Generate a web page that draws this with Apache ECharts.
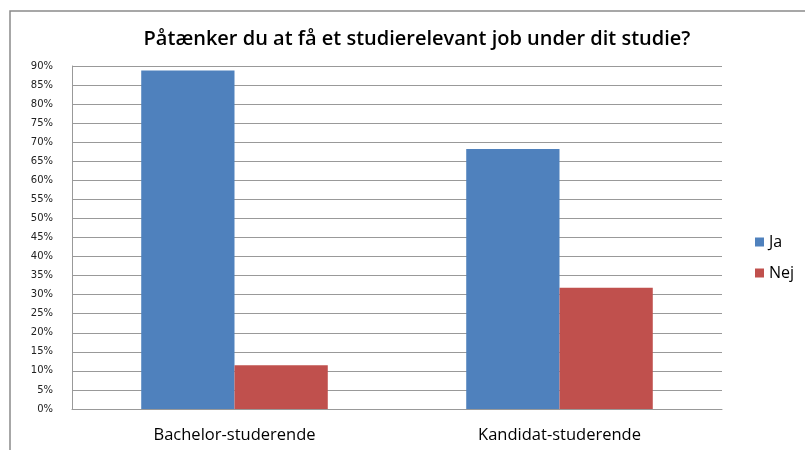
<!DOCTYPE html>
<html>
<head>
<meta charset="utf-8">
<script src="https://cdn.jsdelivr.net/npm/echarts@6/dist/echarts.min.js"></script>
<style>
  html, body { margin: 0; padding: 0; background: #fff; }
  #main { width: 805px; height: 450px; }
</style>
</head>
<body>
<div id="main"></div>
<script>
// data
var categories = ['Bachelor-studerende', 'Kandidat-studerende'];
var jaValues = [88.8, 68.2];
var nejValues = [11.5, 31.8];
var seriesNames = ['Ja', 'Nej'];

var chart = echarts.init(document.getElementById('main'));

chart.setOption({
  animation: false,
  backgroundColor: '#fff',
  title: {
    text: 'Påtænker du at få et studierelevant job under dit studie?',
    left: 412,
    textAlign: 'center',
    top: 24,
    textStyle: {
      fontFamily: 'Open Sans',
      fontWeight: 600,
      fontSize: 20,
      color: '#000'
    }
  },
  // outer frame of the chart
  graphic: [{
    type: 'rect',
    shape: { x: 10, y: 11, width: 820, height: 460 },
    style: { fill: 'none', stroke: '#8a8a8a', lineWidth: 1.5 },
    silent: true
  }],
  legend: {
    orient: 'vertical',
    left: 750,
    top: 229,
    itemWidth: 9,
    itemHeight: 9,
    itemGap: 15,
    icon: 'rect',
    data: seriesNames,
    textStyle: {
      fontFamily: 'Open Sans',
      fontSize: 16,
      color: '#000'
    }
  },
  grid: {
    left: 72,
    right: 83,
    top: 66,
    bottom: 41,
    containLabel: false
  },
  xAxis: {
    type: 'category',
    data: categories,
    axisTick: { show: false },
    axisLine: { show: true, lineStyle: { color: '#999' } },
    axisLabel: {
      fontFamily: 'Open Sans',
      fontSize: 16.5,
      color: '#000',
      margin: 18
    }
  },
  yAxis: {
    type: 'value',
    min: 0,
    max: 90,
    interval: 5,
    axisLine: { show: true, lineStyle: { color: '#999' } },
    axisTick: { show: false },
    splitLine: { show: true, lineStyle: { color: '#999' } },
    axisLabel: {
      formatter: '{value}%',
      fontFamily: 'DejaVu Sans',
      fontSize: 10,
      color: '#222',
      margin: 19
    }
  },
  series: [
    {
      name: seriesNames[0],
      type: 'bar',
      data: jaValues,
      barGap: '0%',
      barCategoryGap: '42.6%',
      itemStyle: { color: '#4F81BD' }
    },
    {
      name: seriesNames[1],
      type: 'bar',
      data: nejValues,
      barGap: '0%',
      barCategoryGap: '42.6%',
      itemStyle: { color: '#C0504D' }
    }
  ]
});
</script>
</body>
</html>
